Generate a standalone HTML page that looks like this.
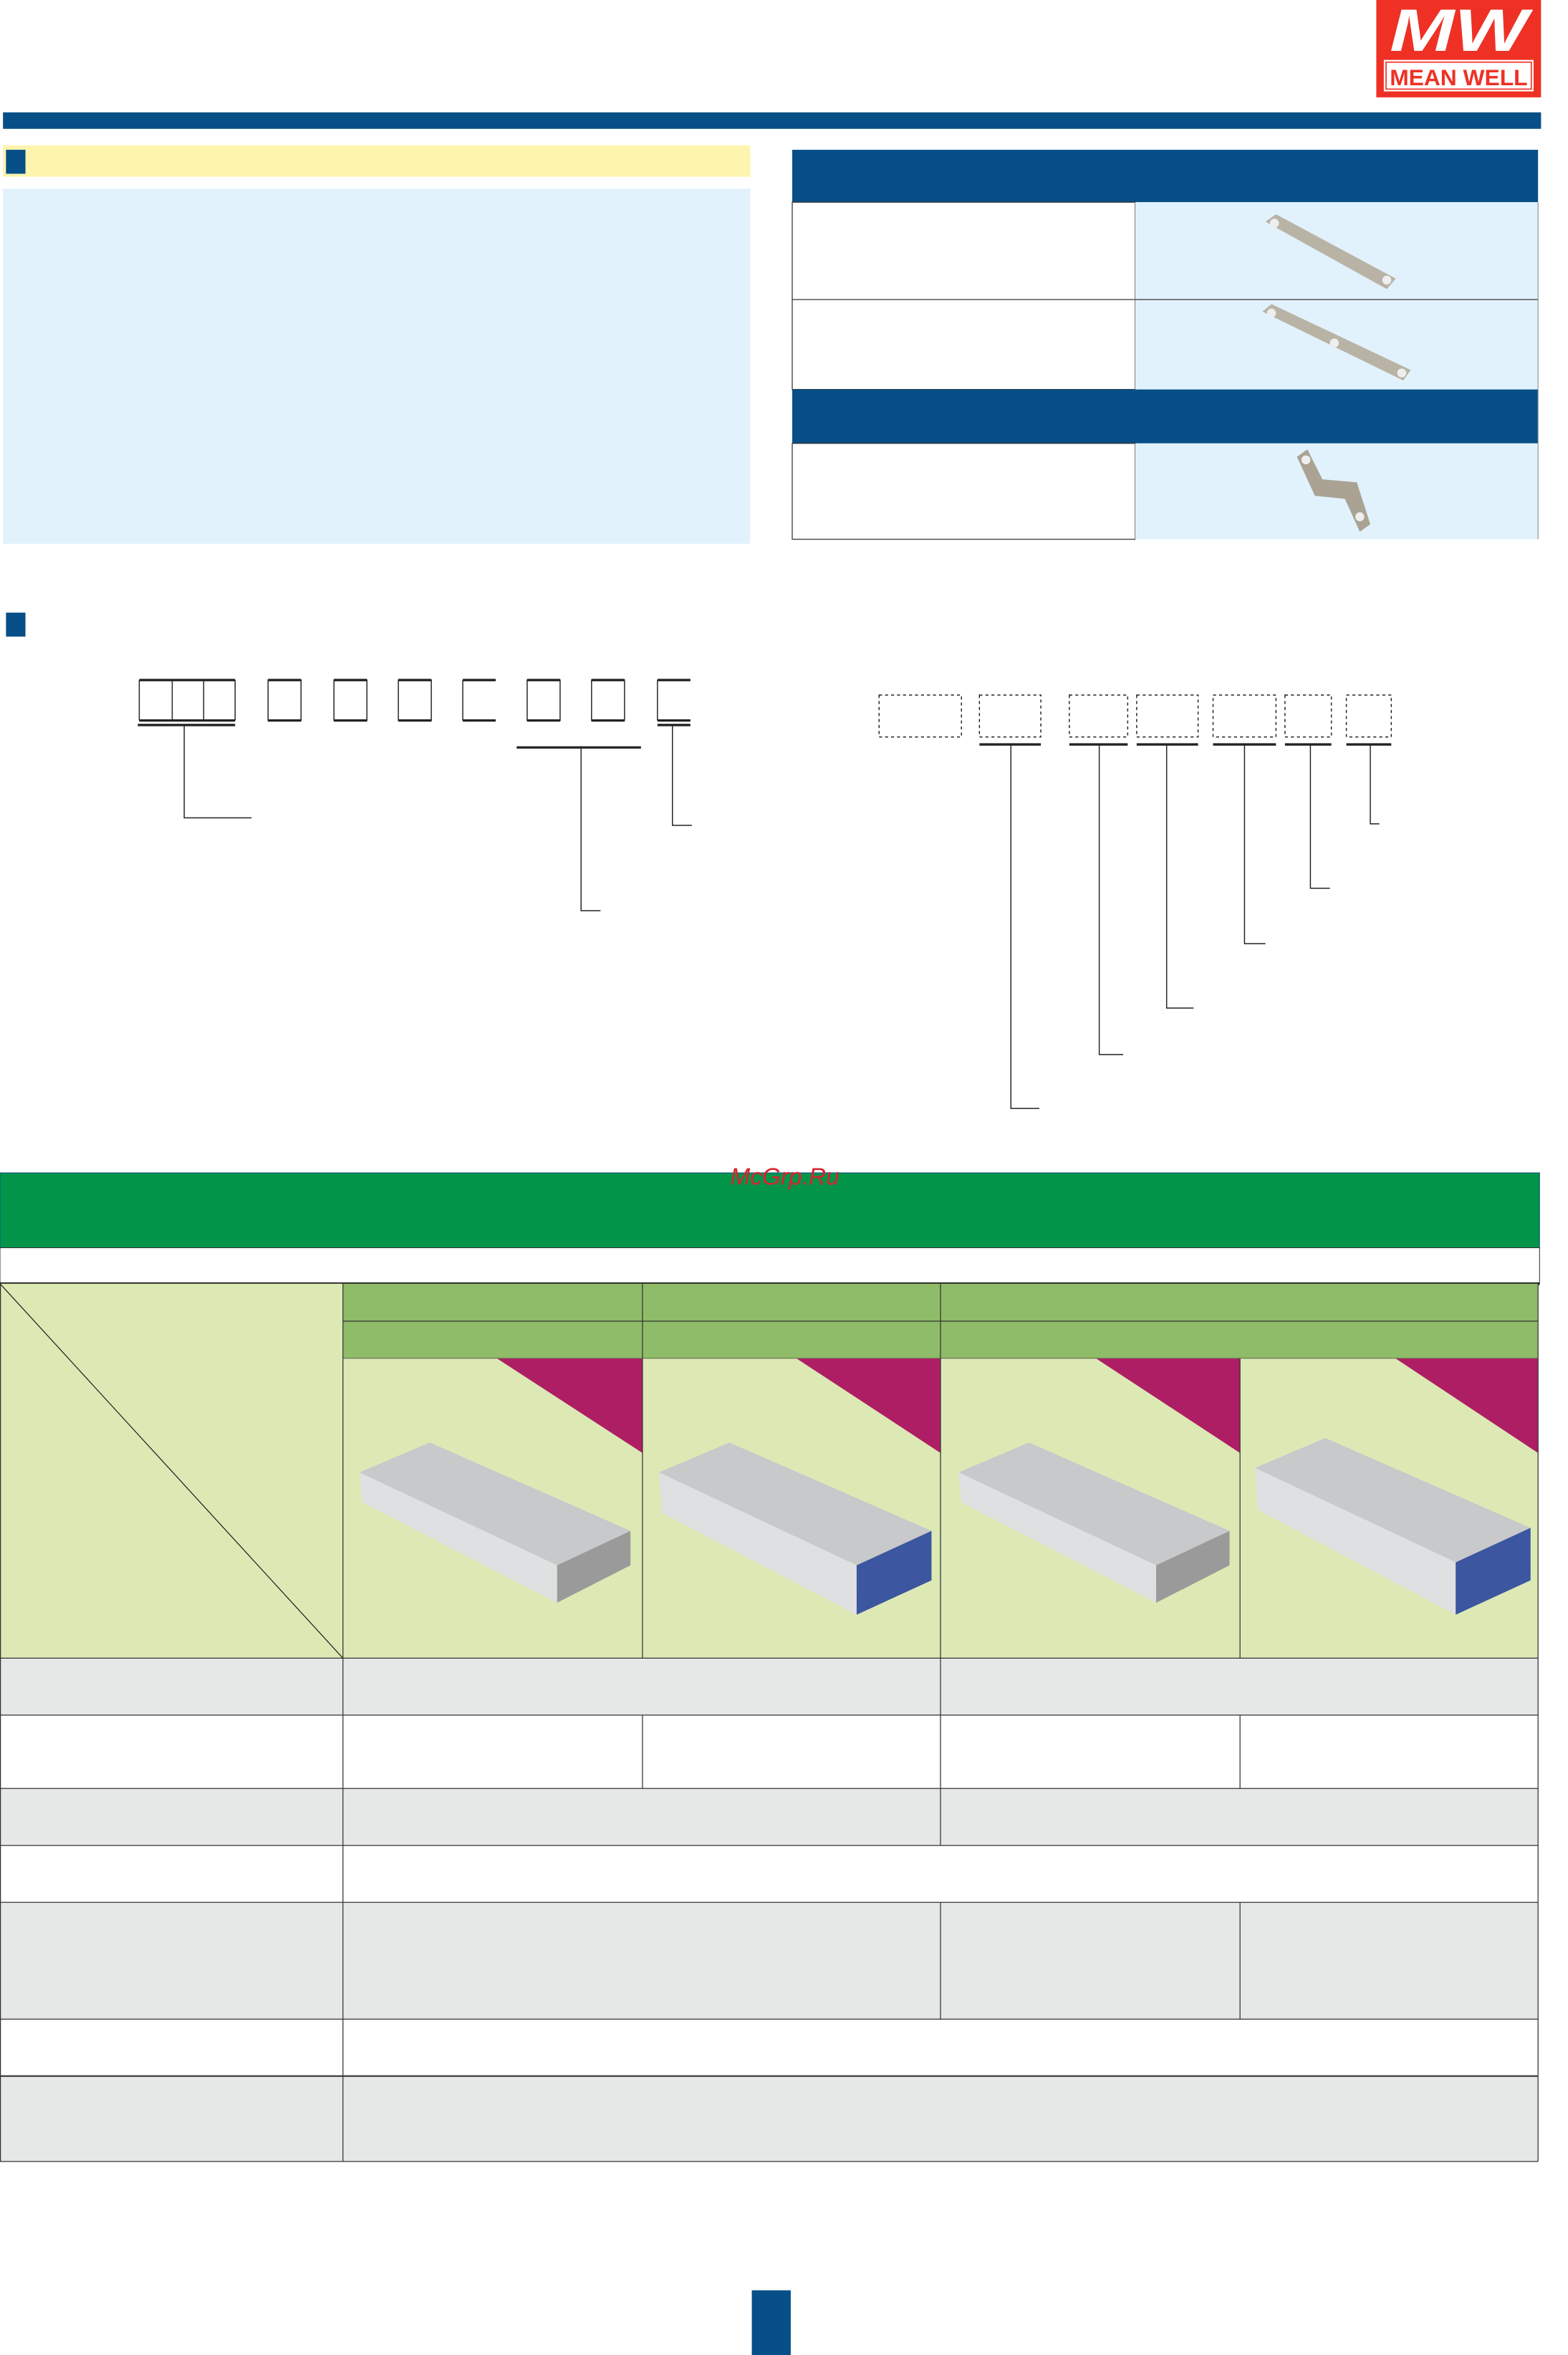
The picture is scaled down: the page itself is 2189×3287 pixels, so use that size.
<!DOCTYPE html>
<html><head><meta charset="utf-8"><style>
html,body{margin:0;padding:0;background:#fff;}
svg{display:block;}
</style></head><body>
<svg width="2189" height="3287" viewBox="0 0 1047 1572.2" preserveAspectRatio="none" xmlns="http://www.w3.org/2000/svg" font-family="Liberation Sans, sans-serif">
<rect x="919" y="0" width="110" height="65" fill="#ee3124"/>
<text x="974" y="34" font-size="40" font-style="italic" font-weight="bold" fill="#fff" text-anchor="middle" textLength="92" lengthAdjust="spacingAndGlyphs">MW</text>
<rect x="924" y="40" width="100" height="21" fill="#fff"/>
<rect x="925.5" y="41.5" width="97" height="18" fill="none" stroke="#ee3124" stroke-width="0.8"/>
<text x="974" y="57" font-size="15" font-weight="bold" fill="#ee3124" text-anchor="middle" textLength="92" lengthAdjust="spacingAndGlyphs">MEAN WELL</text>
<rect x="2" y="75" width="1027" height="11" fill="#074f87"/>
<rect x="2" y="97" width="499" height="21" fill="#fdf5ae"/>
<rect x="4" y="100" width="13" height="16" fill="#074f87"/>
<rect x="2" y="126" width="499" height="237" fill="#e1f2fc"/>
<rect x="529" y="100" width="498" height="35" fill="#074f87"/>
<rect x="529" y="135" width="229" height="125" fill="#fff" stroke="#333" stroke-width="0.6"/>
<line x1="529" y1="200" x2="758" y2="200" stroke="#333" stroke-width="0.6"/>
<rect x="758" y="135" width="269" height="125" fill="#e1f2fc"/>
<line x1="758" y1="200" x2="1027" y2="200" stroke="#333" stroke-width="0.6"/>
<rect x="529" y="260" width="498" height="36" fill="#074f87"/>
<rect x="529" y="296" width="229" height="64" fill="#fff" stroke="#333" stroke-width="0.6"/>
<rect x="758" y="296" width="269" height="64" fill="#e1f2fc"/>
<line x1="1027" y1="135" x2="1027" y2="360" stroke="#888" stroke-width="0.5"/>
<polygon points="845,148 852,143 932,186 926,193" fill="#b9b3a6"/>
<circle cx="851" cy="149" r="3" fill="#eee"/><circle cx="926" cy="187" r="3" fill="#eee"/>
<polygon points="843,208 849,203 942,247 937,254" fill="#b9b3a6"/>
<circle cx="849" cy="209" r="3" fill="#eee"/><circle cx="891" cy="229" r="3" fill="#eee"/><circle cx="936" cy="249" r="3" fill="#eee"/>
<polygon points="866,305 873,300 883,320 906,322 915,350 908,355 898,333 878,331" fill="#aaa393"/>
<circle cx="872" cy="307" r="3" fill="#eee"/><circle cx="908" cy="345" r="3" fill="#eee"/>
<rect x="4" y="409" width="13" height="16" fill="#074f87"/>
<g fill="none" stroke="#222">
<g stroke-width="1.6">
<line x1="93" y1="454" x2="157" y2="454"/><line x1="93" y1="481" x2="157" y2="481"/>
<line x1="179" y1="454" x2="201" y2="454"/><line x1="179" y1="481" x2="201" y2="481"/>
<line x1="223" y1="454" x2="245" y2="454"/><line x1="223" y1="481" x2="245" y2="481"/>
<line x1="266" y1="454" x2="288" y2="454"/><line x1="266" y1="481" x2="288" y2="481"/>
<line x1="309" y1="454" x2="331" y2="454"/><line x1="309" y1="481" x2="331" y2="481"/>
<line x1="352" y1="454" x2="374" y2="454"/><line x1="352" y1="481" x2="374" y2="481"/>
<line x1="395" y1="454" x2="417" y2="454"/><line x1="395" y1="481" x2="417" y2="481"/>
<line x1="439" y1="454" x2="461" y2="454"/><line x1="439" y1="481" x2="461" y2="481"/>
<line x1="92" y1="484" x2="157" y2="484"/><line x1="439" y1="484" x2="461" y2="484"/>
<line x1="345" y1="499" x2="428" y2="499"/>
<line x1="654" y1="497" x2="695" y2="497"/><line x1="714" y1="497" x2="753" y2="497"/>
<line x1="759" y1="497" x2="800" y2="497"/><line x1="810" y1="497" x2="852" y2="497"/>
<line x1="858" y1="497" x2="889" y2="497"/><line x1="899" y1="497" x2="929" y2="497"/>
</g>
<g stroke-width="0.7">
<line x1="93" y1="454" x2="93" y2="481"/><line x1="115" y1="454" x2="115" y2="481"/><line x1="136" y1="454" x2="136" y2="481"/><line x1="157" y1="454" x2="157" y2="481"/>
<rect x="179" y="454" width="22" height="27"/><rect x="223" y="454" width="22" height="27"/><rect x="266" y="454" width="22" height="27"/>
<line x1="309" y1="454" x2="309" y2="481"/><rect x="352" y="454" width="22" height="27"/><rect x="395" y="454" width="22" height="27"/>
<line x1="439" y1="454" x2="439" y2="481"/>
<polyline points="123,484 123,546 168,546"/>
<polyline points="388,499 388,608 401,608"/>
<polyline points="449,484 449,551 462,551"/>
<polyline points="675,497 675,740 694,740"/>
<polyline points="734,497 734,704 750,704"/>
<polyline points="779,497 779,673 797,673"/>
<polyline points="831,497 831,630 845,630"/>
<polyline points="875,497 875,593 888,593"/>
<polyline points="915,497 915,550 921,550"/>
</g>
<g stroke-width="0.7" stroke-dasharray="2,2">
<rect x="587" y="464" width="55" height="28"/><rect x="654" y="464" width="41" height="28"/>
<rect x="714" y="464" width="39" height="28"/><rect x="759" y="464" width="41" height="28"/>
<rect x="810" y="464" width="42" height="28"/><rect x="858" y="464" width="31" height="28"/>
<rect x="899" y="464" width="30" height="28"/>
</g>
</g>
<rect x="0" y="783" width="1028" height="50" fill="#02954a" stroke="#074f87" stroke-width="0.5"/>
<text x="524" y="791" font-size="16" font-style="italic" fill="#d9232e" text-anchor="middle">McGrp.Ru</text>
<rect x="0" y="833" width="1028" height="24" fill="#fff" stroke="#333" stroke-width="0.5"/>
<line x1="0" y1="857" x2="1028" y2="857" stroke="#222" stroke-width="1.8"/>
<rect x="0" y="857" width="229" height="250" fill="#dce9b5"/>
<line x1="0" y1="857" x2="229" y2="1107" stroke="#222" stroke-width="0.6"/>
<rect x="229" y="857" width="798" height="50" fill="#8fbc68"/>
<g stroke="#333" stroke-width="0.6">
<line x1="229" y1="882" x2="1027" y2="882"/><line x1="229" y1="907" x2="1027" y2="907"/>
<line x1="429" y1="857" x2="429" y2="907"/><line x1="628" y1="857" x2="628" y2="907"/>
</g>
<rect x="229" y="907" width="798" height="200" fill="#dce9b5"/>
<polygon points="332,907 429,907 429,970" fill="#ae1e64"/>
<polygon points="532,907 628,907 628,970" fill="#ae1e64"/>
<polygon points="732,907 828,907 828,970" fill="#ae1e64"/>
<polygon points="932,907 1027,907 1027,970" fill="#ae1e64"/>
<polygon points="240,983 287,963 421,1022 372,1045" fill="#c8c9cb"/>
<polygon points="240,983 372,1045 372,1070 242,1003" fill="#dfe0e1"/>
<polygon points="372,1045 421,1022 421,1045 372,1070" fill="#9a9a9a"/>
<polygon points="440,983 487,963 622,1022 572,1045" fill="#c8c9cb"/>
<polygon points="440,983 572,1045 572,1078 442,1010" fill="#dfe0e1"/>
<polygon points="572,1045 622,1022 622,1055 572,1078" fill="#3c56a0"/>
<polygon points="640,983 687,963 821,1022 772,1045" fill="#c8c9cb"/>
<polygon points="640,983 772,1045 772,1070 642,1003" fill="#dfe0e1"/>
<polygon points="772,1045 821,1022 821,1045 772,1070" fill="#9a9a9a"/>
<polygon points="838,980 885,960 1022,1020 972,1043" fill="#c8c9cb"/>
<polygon points="838,980 972,1043 972,1078 840,1008" fill="#dfe0e1"/>
<polygon points="972,1043 1022,1020 1022,1055 972,1078" fill="#3c56a0"/>
<rect x="0" y="1107" width="1027" height="38" fill="#e6e7e7"/>
<rect x="0" y="1145" width="1027" height="49" fill="#fff"/>
<rect x="0" y="1194" width="1027" height="38" fill="#e6e7e7"/>
<rect x="0" y="1232" width="1027" height="38" fill="#fff"/>
<rect x="0" y="1270" width="1027" height="78" fill="#e6e7e7"/>
<rect x="0" y="1348" width="1027" height="38" fill="#fff"/>
<rect x="0" y="1386" width="1027" height="57" fill="#e6e7e7"/>
<g stroke="#333" stroke-width="0.6" fill="none">
<line x1="0" y1="1107" x2="1027" y2="1107"/><line x1="0" y1="1145" x2="1027" y2="1145"/>
<line x1="0" y1="1194" x2="1027" y2="1194"/><line x1="0" y1="1232" x2="1027" y2="1232"/>
<line x1="0" y1="1270" x2="1027" y2="1270"/><line x1="0" y1="1348" x2="1027" y2="1348"/>
<line x1="0" y1="1386" x2="1027" y2="1386" stroke-width="1"/><line x1="0" y1="1443" x2="1027" y2="1443"/>
<line x1="0.3" y1="857" x2="0.3" y2="1443"/><line x1="1027" y1="857" x2="1027" y2="1443"/>
<line x1="229" y1="857" x2="229" y2="1443"/>
<line x1="429" y1="907" x2="429" y2="1107"/><line x1="628" y1="907" x2="628" y2="1145"/><line x1="828" y1="907" x2="828" y2="1107"/>
<line x1="429" y1="1145" x2="429" y2="1194"/><line x1="628" y1="1145" x2="628" y2="1232"/><line x1="828" y1="1145" x2="828" y2="1194"/>
<line x1="628" y1="1270" x2="628" y2="1348"/><line x1="828" y1="1270" x2="828" y2="1348"/>
</g>
<rect x="502" y="1529" width="26" height="44" fill="#074f87"/>
</svg>
</body></html>
